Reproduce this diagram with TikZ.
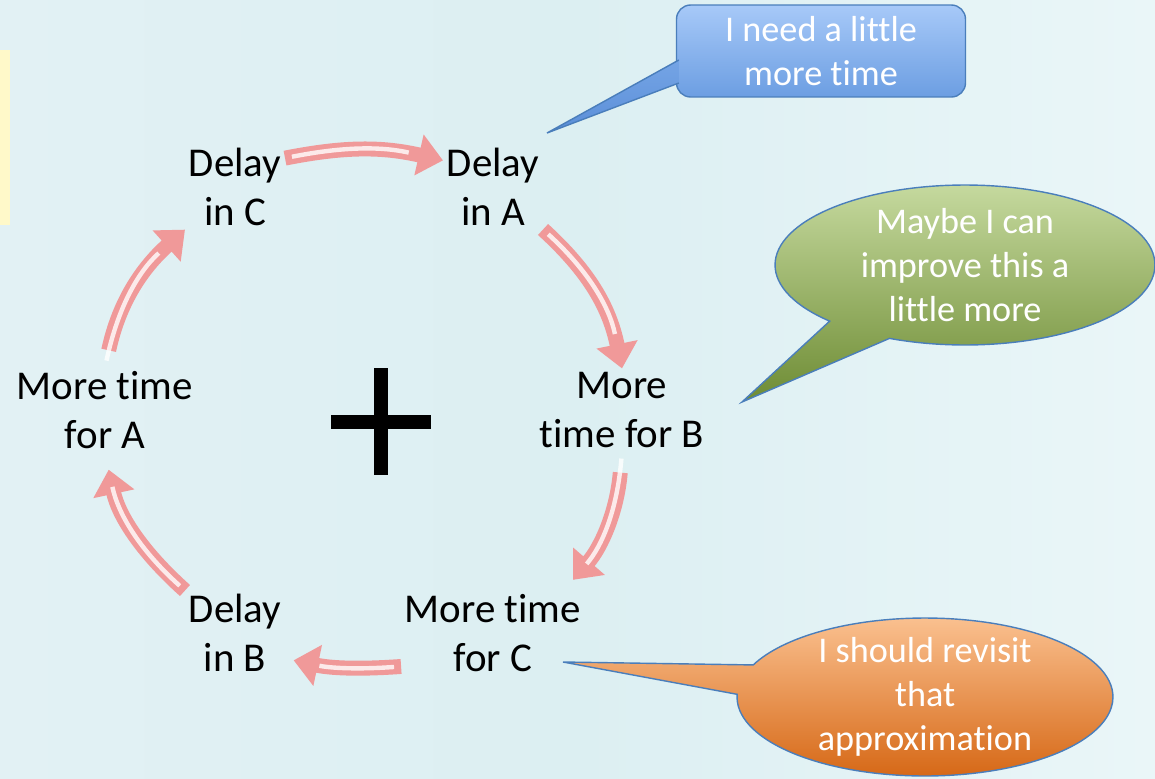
\documentclass[tikz,border=0pt]{standalone}
\usepackage{fontspec}
\setmainfont{Carlito}[Ligatures=NoCommon]
\usetikzlibrary{arrows.meta,shapes.callouts,calc}

\definecolor{bgleft}{HTML}{E2F1F4}
\definecolor{bgmid}{HTML}{DCEFF2}
\definecolor{bgright}{HTML}{EAF6F8}
\definecolor{stripyellow}{HTML}{FFF9C9}
\definecolor{arrowpink}{HTML}{F09999}
\definecolor{calloutedge}{HTML}{4A7EBB}
\definecolor{bluetop}{HTML}{A7C9F8}
\definecolor{bluebottom}{HTML}{6C9EE2}
\definecolor{bluetip}{HTML}{5A8ED8}

\begin{document}
\begin{tikzpicture}[x=0.02cm,y=-0.02cm]

	\tikzstyle{cyclelabel}=[align=center,
	inner sep=2pt,
	font=\fontsize{23.3}{27.8}\selectfont
	]
	\tikzstyle{looparrow}=[draw=arrowpink,
	line width=8.5pt,
	-{Triangle[width=23pt,length=14pt]},
	postaction={draw=white, draw opacity=0.8, line width=2.5pt, -, shorten >=20pt, shorten <=4pt}
	]
	\tikzstyle{bubbletext}=[align=center,
	text=white,
	inner sep=0pt,
	font=\fontsize{20.6}{25}\selectfont
	]
	\tikzstyle{bluebox}=[rectangle,
	rounded corners=8pt,
	draw=calloutedge,
	line width=0.8pt,
	top color=bluetop,
	bottom color=bluebottom,
	minimum width=5.78cm,
	minimum height=1.84cm,
	bubbletext
	]
	\tikzstyle{bluepointer}=[draw=calloutedge,
	line width=0.8pt,
	top color=bluebottom!85!bluetop,
	bottom color=bluetip
	]
	\tikzstyle{greenbubble}=[ellipse callout,
	callout pointer arc=22,
	draw=calloutedge,
	line width=0.8pt,
	top color={rgb,255:red,197;green,217;blue,158},
	bottom color={rgb,255:red,110;green,140;blue,52},
	minimum width=7.6cm,
	minimum height=3.2cm,
	inner sep=0pt
	]
	\tikzstyle{orangebubble}=[ellipse callout,
	callout pointer arc=22,
	draw=calloutedge,
	line width=0.8pt,
	top color={rgb,255:red,250;green,192;blue,143},
	bottom color={rgb,255:red,214;green,104;blue,22},
	minimum width=7.52cm,
	minimum height=3.16cm,
	inner sep=0pt
	]

	% background
	\shade[left color=bgleft, right color=bgright, middle color=bgmid] (0,0) rectangle (1155,778);
	\useasboundingbox (0,0) rectangle (1155,778);
	\fill[stripyellow] (0,50) rectangle (10,225);

	% the cycle
	\node[cyclelabel] (dC) at (235,187) {Delay\\in C};
	\node[cyclelabel] (dA) at (493,187) {Delay\\in A};
	\node[cyclelabel] (mB) at (622,410) {More\\time for B};
	\node[cyclelabel] (mC) at (493,633) {More time\\for C};
	\node[cyclelabel] (dB) at (235,633) {Delay\\in B};
	\node[cyclelabel] (mA) at (105,410) {More time\\for A};

	\draw[looparrow] (dC.30) to[bend left=12] (dA.152);
	\draw[looparrow] (dA.south east) to[bend left=18] (mB.north);
	\draw[looparrow, shorten <=12pt, shorten >=8pt] (mB.south) to[bend left=18] (mC.31);
	\draw[looparrow, shorten >=5pt] (mC.200) to[bend left=8] (dB.-27);
	\draw[looparrow, shorten >=10pt] (dB.north west) to[bend left=18] (mA.south);
	\draw[looparrow, shorten <=10pt] (mA.north) to[bend left=18] (dC.south west);

	% plus sign
	\draw[line width=8.5pt] (331,422) -- (431,422);
	\draw[line width=8.5pt] (381,368) -- (381,475);

	% callouts
	\coordinate (tipA) at (547,133);
	\coordinate (tipG) at (742,402);
	\coordinate (tipO) at (563,662);

	\node[bluebox] (needA) at (821,51) {I need a little\\more time};
	\path[bluepointer] ($(needA.west)+(3,9)$) -- (tipA) -- ($(needA.west)+(3,32)$);

	\node[greenbubble, callout absolute pointer={(tipG)}] (bubG) at (965,265) {};
	\node[bubbletext] (txtG) at (bubG.center) {Maybe I can\\improve this a\\little more};

	\node[orangebubble, callout absolute pointer={(tipO)}] (bubO) at (925,697) {};
	\node[bubbletext] (txtO) at (bubO.center) {I should revisit\\that\\approximation};

\end{tikzpicture}
\end{document}
